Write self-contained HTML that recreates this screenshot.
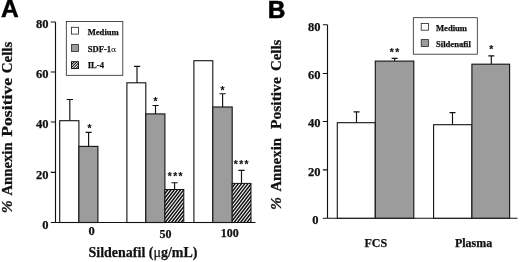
<!DOCTYPE html>
<html>
<head>
<meta charset="utf-8">
<title>Annexin Positive Cells</title>
<style>
html,body{margin:0;padding:0;background:#fff;}
body{width:520px;height:262px;overflow:hidden;}
svg{display:block;}
.s{font-family:"Liberation Serif","DejaVu Serif",serif;font-weight:bold;fill:#111;stroke:#111;stroke-width:0.25;}
.a{font-family:"Liberation Sans","DejaVu Sans",sans-serif;font-weight:bold;fill:#000;}
.st{font-family:"Liberation Sans","DejaVu Sans",sans-serif;font-weight:bold;font-size:10.2px;fill:#111;stroke:#111;stroke-width:0.15;text-anchor:middle;}
.ln{stroke:#111;stroke-width:1.15;fill:none;}
.bw{fill:#fff;stroke:#111;stroke-width:1.1;}
.bg{fill:#9c9c9c;stroke:#181818;stroke-width:1.15;}
</style>
</head>
<body>
<svg width="520" height="262" viewBox="0 0 520 262">
<rect width="520" height="262" fill="#fff"/>

<!-- ===== Panel A ===== -->
<text class="a" x="0.9" y="16.8" font-size="24.5" stroke="#000" stroke-width="0.5">A</text>
<g transform="translate(12.2,0) rotate(-90)">
<text class="s" font-size="15.5" font-style="italic" font-weight="normal" x="-213.2" y="0">%</text>
<text class="s" font-size="15" x="-195.6" y="0" textLength="53.2" lengthAdjust="spacingAndGlyphs">Annexin</text>
<text class="s" font-size="15" x="-136.8" y="0" textLength="59" lengthAdjust="spacingAndGlyphs">Positive</text>
<text class="s" font-size="15" x="-73.3" y="0" textLength="31.6" lengthAdjust="spacingAndGlyphs">Cells</text>
</g>

<!-- axes -->
<path class="ln" d="M55.5 22V222.5 M50.8 22H55.5 M50.8 72H55.5 M50.8 122H55.5 M50.8 172.3H55.5 M50.8 222.5H255.5"/>
<text class="s" font-size="12.5" text-anchor="end" x="48.6" y="28.0">80</text>
<text class="s" font-size="12.5" text-anchor="end" x="48.6" y="78.0">60</text>
<text class="s" font-size="12.5" text-anchor="end" x="48.6" y="128.2">40</text>
<text class="s" font-size="12.5" text-anchor="end" x="48.6" y="178.6">20</text>
<text class="s" font-size="12.5" text-anchor="end" x="48.6" y="228.6">0</text>

<!-- group 0 -->
<path class="ln" d="M69.8 121V99.5 M66.7 99.5H73"/>
<rect class="bw" x="59.7" y="120.7" width="19.2" height="101.8"/>
<path class="ln" d="M88.6 146V132.3 M85.6 132.3H91.7"/>
<rect class="bg" x="78.9" y="146.4" width="19" height="76.1"/>
<text class="st" x="89.6" y="132.0" letter-spacing="0.0">*</text>

<!-- group 50 -->
<path class="ln" d="M137 83V66.4 M134 66.4H140.2"/>
<rect class="bw" x="126.9" y="82.8" width="18.9" height="139.7"/>
<path class="ln" d="M155.5 114V105.5 M152.5 105.5H158.6"/>
<rect class="bg" x="145.8" y="113.9" width="19.1" height="108.6"/>
<text class="st" x="155.4" y="104.8" letter-spacing="0.0">*</text>
<path class="ln" d="M174.6 190V182.7 M171.5 182.7H177.7"/>
<clipPath id="h1"><rect x="164.90" y="189.50" width="18.90" height="33.00"/></clipPath>
<rect x="164.90" y="189.50" width="18.90" height="33.00" fill="#fff"/>
<path clip-path="url(#h1)" d="M136.32 222.50L161.70 189.50M139.52 222.50L164.90 189.50M142.72 222.50L168.10 189.50M145.92 222.50L171.30 189.50M149.12 222.50L174.50 189.50M152.32 222.50L177.70 189.50M155.52 222.50L180.90 189.50M158.72 222.50L184.10 189.50M161.92 222.50L187.30 189.50M165.12 222.50L190.50 189.50M168.32 222.50L193.70 189.50M171.52 222.50L196.90 189.50M174.72 222.50L200.10 189.50M177.92 222.50L203.30 189.50M181.12 222.50L206.50 189.50M184.32 222.50L209.70 189.50" stroke="#111" stroke-width="1.50" fill="none"/>
<rect x="164.90" y="189.50" width="18.90" height="33.00" fill="none" stroke="#111" stroke-width="1"/>
<text class="st" x="175.9" y="179.5" letter-spacing="1.5">***</text>

<!-- group 100 -->
<rect class="bw" x="193.9" y="60.7" width="18.9" height="161.8"/>
<path class="ln" d="M222.6 107V93.7 M219.5 93.7H225.7"/>
<rect class="bg" x="212.8" y="107" width="19.4" height="115.5"/>
<text class="st" x="222.6" y="93.9" letter-spacing="0.0">*</text>
<path class="ln" d="M241.5 184V170.3 M238.4 170.3H244.6"/>
<clipPath id="h2"><rect x="232.20" y="183.40" width="18.80" height="39.10"/></clipPath>
<rect x="232.20" y="183.40" width="18.80" height="39.10" fill="#fff"/>
<path clip-path="url(#h2)" d="M198.92 222.50L229.00 183.40M202.12 222.50L232.20 183.40M205.32 222.50L235.40 183.40M208.52 222.50L238.60 183.40M211.72 222.50L241.80 183.40M214.92 222.50L245.00 183.40M218.12 222.50L248.20 183.40M221.32 222.50L251.40 183.40M224.52 222.50L254.60 183.40M227.72 222.50L257.80 183.40M230.92 222.50L261.00 183.40M234.12 222.50L264.20 183.40M237.32 222.50L267.40 183.40M240.52 222.50L270.60 183.40M243.72 222.50L273.80 183.40M246.92 222.50L277.00 183.40M250.12 222.50L280.20 183.40M253.32 222.50L283.40 183.40" stroke="#111" stroke-width="1.50" fill="none"/>
<rect x="232.20" y="183.40" width="18.80" height="39.10" fill="none" stroke="#111" stroke-width="1"/>
<text class="st" x="241.9" y="167.9" letter-spacing="1.5">***</text>

<!-- x labels -->
<text class="s" font-size="12.5" text-anchor="middle" x="91.5" y="235.2">0</text>
<text class="s" font-size="12" text-anchor="middle" x="165.6" y="238.3">50</text>
<text class="s" font-size="12" text-anchor="middle" x="229.8" y="236.6">100</text>
<text class="s" font-size="15" x="88.5" y="256.7" textLength="109" lengthAdjust="spacingAndGlyphs">Sildenafil (<tspan font-weight="normal">μ</tspan>g/mL)</text>

<!-- legend A -->
<rect x="66.3" y="21.5" width="56.5" height="53.8" fill="#fff" stroke="#222" stroke-width="0.8"/>
<rect x="71.5" y="27.3" width="7" height="6.8" fill="#fff" stroke="#222" stroke-width="0.8"/>
<rect x="71.5" y="44.6" width="7" height="6.8" fill="#9a9a9a" stroke="#222" stroke-width="0.8"/>
<clipPath id="h3"><rect x="71.50" y="61.70" width="7.00" height="6.80"/></clipPath>
<rect x="71.50" y="61.70" width="7.00" height="6.80" fill="#fff"/>
<path clip-path="url(#h3)" d="M62.30 68.50L69.10 61.70M65.00 68.50L71.80 61.70M67.70 68.50L74.50 61.70M70.40 68.50L77.20 61.70M73.10 68.50L79.90 61.70M75.80 68.50L82.60 61.70M78.50 68.50L85.30 61.70" stroke="#111" stroke-width="1.05" fill="none"/>
<rect x="71.50" y="61.70" width="7.00" height="6.80" fill="none" stroke="#111" stroke-width="1"/>
<text class="s" font-size="8.6" x="87.7" y="35">Medium</text>
<text class="s" font-size="8.6" x="87.7" y="52">SDF-1<tspan font-weight="normal" font-family="DejaVu Serif,serif" font-size="8" stroke-width="0">α</tspan></text>
<text class="s" font-size="8.6" x="87.7" y="68.4">IL-4</text>

<!-- ===== Panel B ===== -->
<text class="a" x="268" y="18.1" font-size="24" stroke="#000" stroke-width="0.7">B</text>
<g transform="translate(280.6,0) rotate(-90)">
<text class="s" font-size="15.5" font-style="italic" font-weight="normal" x="-210" y="0.4">%</text>
<text class="s" font-size="15" x="-191.6" y="0" textLength="53.6" lengthAdjust="spacingAndGlyphs">Annexin</text>
<text class="s" font-size="15" x="-129" y="0" textLength="51.8" lengthAdjust="spacingAndGlyphs">Positive</text>
<text class="s" font-size="15" x="-71.1" y="0" textLength="31.5" lengthAdjust="spacingAndGlyphs">Cells</text>
</g>

<path class="ln" d="M327.5 24.7V218.2 M322.8 24.7H327.5 M322.8 73.5H327.5 M322.8 121.5H327.5 M322.8 169.8H327.5 M322.8 218.2H517.5"/>
<text class="s" font-size="12.5" text-anchor="end" x="320.6" y="30.6">80</text>
<text class="s" font-size="12.5" text-anchor="end" x="320.6" y="79.0">60</text>
<text class="s" font-size="12.5" text-anchor="end" x="320.6" y="127.4">40</text>
<text class="s" font-size="12.5" text-anchor="end" x="320.6" y="175.7">20</text>
<text class="s" font-size="12.5" text-anchor="end" x="318.4" y="223.8">0</text>

<!-- FCS -->
<path class="ln" d="M356.5 123V111.8 M353.6 111.8H359.6"/>
<rect class="bw" x="337.3" y="122.7" width="38" height="95.5"/>
<path class="ln" d="M394.6 61V58.3 M391.6 58.3H397.6"/>
<rect class="bg" x="375.3" y="61.1" width="38.5" height="157.1"/>
<text class="st" x="395.2" y="56.0" letter-spacing="1.5">**</text>

<!-- Plasma -->
<path class="ln" d="M452.5 125V112.6 M449.5 112.6H455.5"/>
<rect class="bw" x="433.6" y="124.7" width="38.3" height="93.5"/>
<path class="ln" d="M491.3 64V55.9 M488.3 55.9H494.3"/>
<rect class="bg" x="471.9" y="64.2" width="37.7" height="154"/>
<text class="st" x="491.2" y="52.7" letter-spacing="0.0">*</text>

<text class="s" font-size="12" text-anchor="middle" x="375.8" y="247.2">FCS</text>
<text class="s" font-size="12" text-anchor="middle" x="473.6" y="247.2">Plasma</text>

<!-- legend B -->
<rect x="413.3" y="17.7" width="64" height="36.5" fill="#fff" stroke="#222" stroke-width="0.8"/>
<rect x="421.2" y="23.4" width="7.2" height="6.8" fill="#fff" stroke="#222" stroke-width="0.8"/>
<rect x="421.2" y="39.6" width="7.2" height="6.8" fill="#9a9a9a" stroke="#222" stroke-width="0.8"/>
<text class="s" font-size="8.6" x="436" y="30.8">Medium</text>
<text class="s" font-size="8.6" x="436" y="47">Sildenafil</text>
</svg>
</body>
</html>
